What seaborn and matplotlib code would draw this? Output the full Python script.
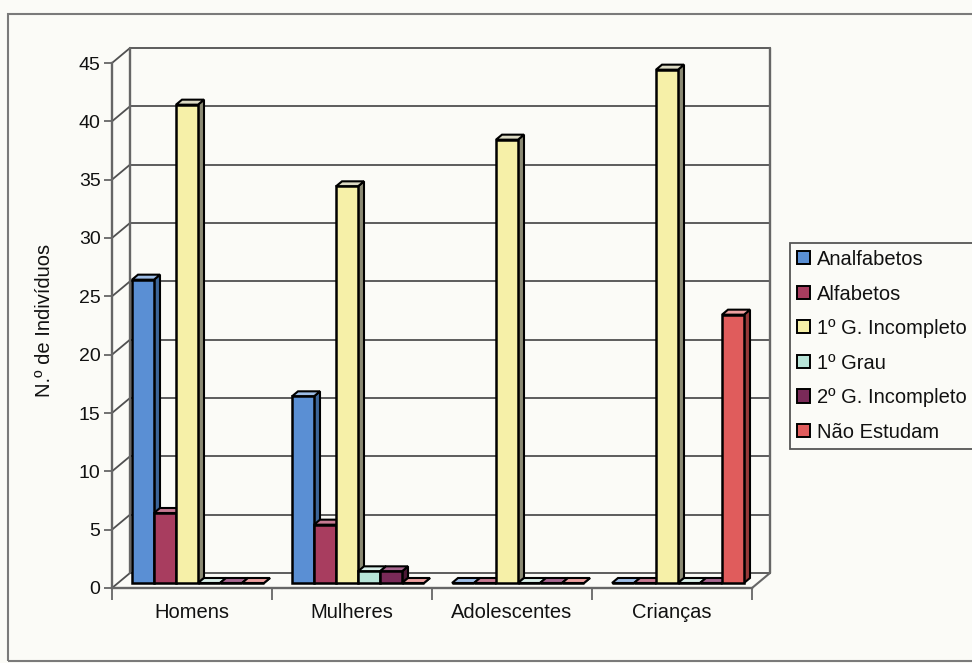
import matplotlib
matplotlib.use("Agg")
import matplotlib.pyplot as plt
import numpy as np
import pandas as pd
import seaborn as sns
from matplotlib.patches import Polygon, Rectangle, Patch
import matplotlib.transforms as mtransforms

# ---- data ----
grupos = ["Homens", "Mulheres", "Adolescentes", "Crianças"]
niveis = ["Analfabetos", "Alfabetos", "1º G. Incompleto", "1º Grau",
          "2º G. Incompleto", "Não Estudam"]
analfabetos = [26, 16, 0, 0]
alfabetos = [6, 5, 0, 0]
primeiro_incompleto = [41, 34, 38, 44]
primeiro_grau = [0, 1, 0, 0]
segundo_incompleto = [0, 1, 0, 0]
nao_estudam = [0, 0, 0, 23]
yticks = list(range(0, 50, 5))

# ---- style ----
frente = ["#5a8fd4", "#a83d5f", "#f6f0a8", "#b8e4d8", "#7a2a58", "#e05c5c"]
lados = ["#3d6699", "#6f2640", "#8b8a74", "#7a9990", "#4b1835", "#973a3a"]
topos = ["#9dbde6", "#c77a92", "#dcdac4", "#d9efe9", "#a86790", "#eea0a0"]
BG = "#fbfbf7"
GRID = "#505050"
AXC = "#666666"

valores = [analfabetos, alfabetos, primeiro_incompleto, primeiro_grau,
           segundo_incompleto, nao_estudam]
df = pd.DataFrame([
    {"grupo": g, "nivel": n, "valor": serie[i]}
    for n, serie in zip(niveis, valores)
    for i, g in enumerate(grupos)
])

sns.set_theme(style="white")
plt.rcParams["font.family"] = ["Liberation Sans", "DejaVu Sans"]

W, H = 972, 663
fig = plt.figure(figsize=(W / 100, H / 100), dpi=100, facecolor=BG)
# front plane of the pseudo-3D box
ax = fig.add_axes([112 / W, 75 / H, 640 / W, 525 / H])
ax.set_facecolor("none")

sns.barplot(data=df, x="grupo", y="valor", hue="nivel", order=grupos,
            hue_order=niveis, palette=frente, width=0.825, saturation=1,
            edgecolor="black", linewidth=1.8, errorbar=None, legend=False,
            ax=ax)

ax.set_xlim(-0.5, 3.5)
ax.set_ylim(0, 45)

# pixel -> data unit factors
PXX = 4 / 640
PXY = 45 / 525
BX, BY = 18 * PXX, 15 * PXY      # back wall offset
SX, SY = 6 * PXX, 5 * PXY        # bar plane offset
DX, DY = 6 * PXX, 5 * PXY        # bar depth

# back wall gridlines and edges
for v in yticks:
    ax.plot([-0.5 + BX, 3.5 + BX], [v + BY, v + BY], color=GRID, lw=1.3,
            zorder=1, clip_on=False)
    ax.plot([-0.5, -0.5 + BX], [v, v + BY], color=GRID, lw=1.3,
            zorder=1, clip_on=False)
for xe in (-0.5, 3.5):
    ax.plot([xe + BX, xe + BX], [BY, 45 + BY], color=AXC, lw=1.7,
            zorder=1, clip_on=False)
ax.plot([3.5, 3.5 + BX], [0, BY], color=AXC, lw=1.5, zorder=1, clip_on=False)

# extrude the bars
shift = mtransforms.Affine2D().translate(6, 5)
for k, cont in enumerate(ax.containers):
    for p in cont.patches:
        x0 = p.get_x() + SX
        x1 = x0 + p.get_width()
        y0 = SY
        h = p.get_height()
        side = Polygon([(x1, y0), (x1, y0 + h), (x1 + DX, y0 + h + DY),
                        (x1 + DX, y0 + DY)], closed=True, fc=lados[k],
                       ec="black", lw=1.5, zorder=3 + 2 * k, clip_on=False)
        top = Polygon([(x0, y0 + h), (x0 + DX, y0 + h + DY),
                       (x1 + DX, y0 + h + DY), (x1, y0 + h)], closed=True,
                      fc=topos[k], ec="black", lw=1.5, zorder=3 + 2 * k,
                      clip_on=False)
        ax.add_patch(side)
        ax.add_patch(top)
        p.set_transform(ax.transData + shift)
        p.set_zorder(4 + 2 * k)
        p.set_clip_on(False)

# axes, ticks and labels
for s in ("top", "right"):
    ax.spines[s].set_visible(False)
for s in ("left", "bottom"):
    ax.spines[s].set_color(AXC)
    ax.spines[s].set_linewidth(1.7)
    ax.spines[s].set_zorder(2)

ax.set_yticks(yticks)
ax.tick_params(axis="y", direction="out", length=5.8, width=1.3, color=AXC,
               pad=2.5, labelsize=14, left=True, labelcolor="#111111")
ax.set_xticks(range(len(grupos)))
ax.set_xticklabels(grupos)
ax.set_xticks(np.arange(-0.5, 4, 1.0), minor=True)
ax.tick_params(axis="x", which="major", length=0, pad=11, labelsize=14.5,
               labelcolor="#111111")
ax.tick_params(axis="x", which="minor", length=8.6, width=1.3, color=AXC,
               direction="out", bottom=True)
ax.set_xlabel("")
ax.set_ylabel("N.º de Indivíduos", fontsize=14.5, color="#111111")
ax.yaxis.label.set_verticalalignment("center")
ax.yaxis.set_label_coords((45 - 112) / 640, (588 - 320) / 525)

# legend
handles = [Patch(facecolor=c, edgecolor="black", linewidth=1.4) for c in frente]
leg = fig.legend(handles, niveis, loc="upper left",
                 bbox_to_anchor=(790 / W, 1 - 243 / H), fontsize=14.5,
                 frameon=True, fancybox=False, edgecolor="#555555",
                 facecolor=BG, framealpha=1, handlelength=0.62,
                 handleheight=0.62, handletextpad=0.35, labelspacing=0.77,
                 borderpad=0.35, borderaxespad=0)
leg.get_frame().set_linewidth(1.3)
for t in leg.get_texts():
    t.set_color("#111111")

# chart area border
fig.add_artist(Rectangle((8 / W, 2 / H), 1.0, (661 - 14) / H,
                         transform=fig.transFigure, fill=False,
                         ec="#7a7a7a", lw=1.5, clip_on=False))

fig.savefig("out.png", dpi=100, facecolor=BG)
